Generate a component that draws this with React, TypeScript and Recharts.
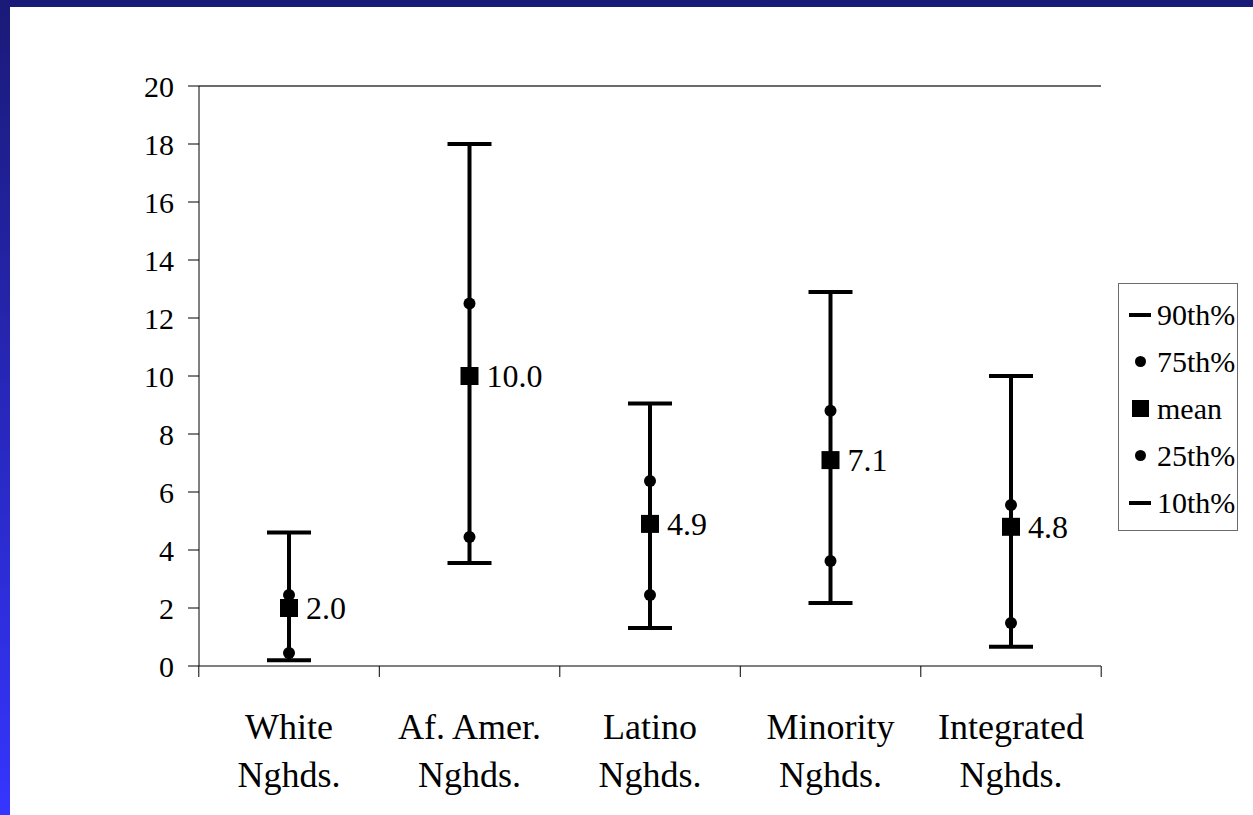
import React from "react";
import {
  ComposedChart,
  Line,
  XAxis,
  YAxis,
  ErrorBar,
  LabelList,
  ReferenceLine,
} from "recharts";

const FONT = '"Liberation Serif", "Times New Roman", serif';

// categories (x axis)
const categories = [
  "White Nghds.",
  "Af. Amer. Nghds.",
  "Latino Nghds.",
  "Minority Nghds.",
  "Integrated Nghds.",
];

// percentiles + mean
const p90 = [4.6, 18.0, 9.05, 12.9, 10.0];
const p75 = [2.45, 12.5, 6.38, 8.8, 5.55];
const mean = [2.0, 10.0, 4.9, 7.1, 4.8];
const p25 = [0.45, 4.45, 2.45, 3.62, 1.48];
const p10 = [0.2, 3.55, 1.31, 2.17, 0.66];

const yTicks = [0, 2, 4, 6, 8, 10, 12, 14, 16, 18, 20];

const legendItems = [
  { label: "90th%", symbol: "bar" },
  { label: "75th%", symbol: "dot" },
  { label: "mean", symbol: "square" },
  { label: "25th%", symbol: "dot" },
  { label: "10th%", symbol: "bar" },
];

const data = categories.map((name, i) => ({
  name,
  p90: p90[i],
  p75: p75[i],
  mean: mean[i],
  p25: p25[i],
  p10: p10[i],
  // asymmetric whisker from 10th to 90th percentile
  whisker: [mean[i] - p10[i], p90[i] - mean[i]],
}));

const splitLabel = (s: string) => {
  const k = s.lastIndexOf(" ");
  return [s.slice(0, k), s.slice(k + 1)];
};

const XTick = (props: any) => {
  const { x, y, payload, index, width, visibleTicksCount } = props;
  const band = (width || 902) / (visibleTicksCount || categories.length);
  const [l1, l2] = splitLabel(String(payload.value));
  return (
    <g>
      <line x1={x - band / 2} x2={x - band / 2} y1={y} y2={y + 11} stroke="#000" />
      {index === categories.length - 1 && (
        <line x1={x + band / 2} x2={x + band / 2} y1={y} y2={y + 11} stroke="#000" />
      )}
      <text x={x} y={y + 73} textAnchor="middle" fontSize={36} fontFamily={FONT} fill="#000">
        {l1}
      </text>
      <text x={x} y={y + 121} textAnchor="middle" fontSize={36} fontFamily={FONT} fill="#000">
        {l2}
      </text>
    </g>
  );
};

const CircleDot = (props: any) => (
  <circle key={"c" + props.index} cx={props.cx} cy={props.cy} r={6} fill="#000" />
);

const SquareDot = (props: any) => (
  <rect key={"s" + props.index} x={props.cx - 9} y={props.cy - 9} width={18} height={18} fill="#000" />
);

const MeanLabel = (props: any) => {
  const { x, y, value } = props;
  return (
    <text x={x + 17} y={y} dy="0.35em" fontSize={32} fontFamily={FONT} fill="#000">
      {Number(value).toFixed(1)}
    </text>
  );
};

const LegendSymbol = ({ type }: { type: string }) => {
  if (type === "bar") return <div style={{ width: 22, height: 4, background: "#000" }} />;
  if (type === "dot")
    return <div style={{ width: 11, height: 11, borderRadius: 6, background: "#000", margin: "0 6px" }} />;
  return <div style={{ width: 17, height: 17, background: "#000", margin: "0 3px" }} />;
};

export default function App() {
  return (
    <div
      style={{
        position: "absolute",
        left: 0,
        top: 0,
        width: 1253,
        height: 815,
        background: "linear-gradient(to bottom, #1a1a78, #3535ff)",
        overflow: "hidden",
      }}
    >
      <div style={{ position: "absolute", left: 10, top: 7, right: 0, bottom: 0, background: "#fff" }} />
      <div style={{ position: "absolute", left: 0, top: 0 }}>
        <ComposedChart
          width={1253}
          height={815}
          data={data}
          margin={{ top: 86, right: 152, bottom: 20, left: 139 }}
        >
          <XAxis
            dataKey="name"
            height={129}
            interval={0}
            padding={{ left: 90, right: 90 }}
            tickSize={0}
            tickMargin={0}
            tickLine={false}
            axisLine={{ stroke: "#000", strokeWidth: 1 }}
            tick={<XTick />}
          />
          <YAxis
            domain={[0, 20]}
            ticks={yTicks}
            interval={0}
            width={60}
            tickSize={11}
            tickMargin={14}
            axisLine={{ stroke: "#000", strokeWidth: 1 }}
            tickLine={{ stroke: "#000" }}
            tick={{ fontSize: 30, fontFamily: FONT, fill: "#000" }}
          />
          <YAxis
            yAxisId="right"
            orientation="right"
            domain={[0, 20]}
            width={0}
            tick={false}
            tickLine={false}
            axisLine={{ stroke: "#6b6b6b", strokeWidth: 2 }}
          />
          <ReferenceLine y={20} stroke="#6b6b6b" strokeWidth={2} />
          <Line
            dataKey="mean"
            stroke="none"
            strokeWidth={0}
            dot={false}
            activeDot={false}
            isAnimationActive={false}
          >
            <ErrorBar dataKey="whisker" width={22} stroke="#000" strokeWidth={4} direction="y" />
          </Line>
          <Line
            dataKey="p75"
            stroke="none"
            strokeWidth={0}
            dot={CircleDot}
            activeDot={false}
            isAnimationActive={false}
          />
          <Line
            dataKey="p25"
            stroke="none"
            strokeWidth={0}
            dot={CircleDot}
            activeDot={false}
            isAnimationActive={false}
          />
          <Line
            dataKey="mean"
            stroke="none"
            strokeWidth={0}
            dot={SquareDot}
            activeDot={false}
            isAnimationActive={false}
          >
            <LabelList dataKey="mean" content={<MeanLabel />} />
          </Line>
        </ComposedChart>
      </div>
      <div
        style={{
          position: "absolute",
          left: 1118,
          top: 283,
          width: 120,
          boxSizing: "border-box",
          border: "1px solid #6b6b6b",
          background: "#fff",
          padding: "7px 0 4px 10px",
          fontFamily: FONT,
          fontSize: 30,
          color: "#000",
        }}
      >
        {legendItems.map((it) => (
          <div key={it.label} style={{ display: "flex", alignItems: "center", height: 47 }}>
            <div style={{ width: 28, display: "flex", alignItems: "center" }}>
              <LegendSymbol type={it.symbol} />
            </div>
            <span style={{ whiteSpace: "nowrap" }}>{it.label}</span>
          </div>
        ))}
      </div>
    </div>
  );
}
